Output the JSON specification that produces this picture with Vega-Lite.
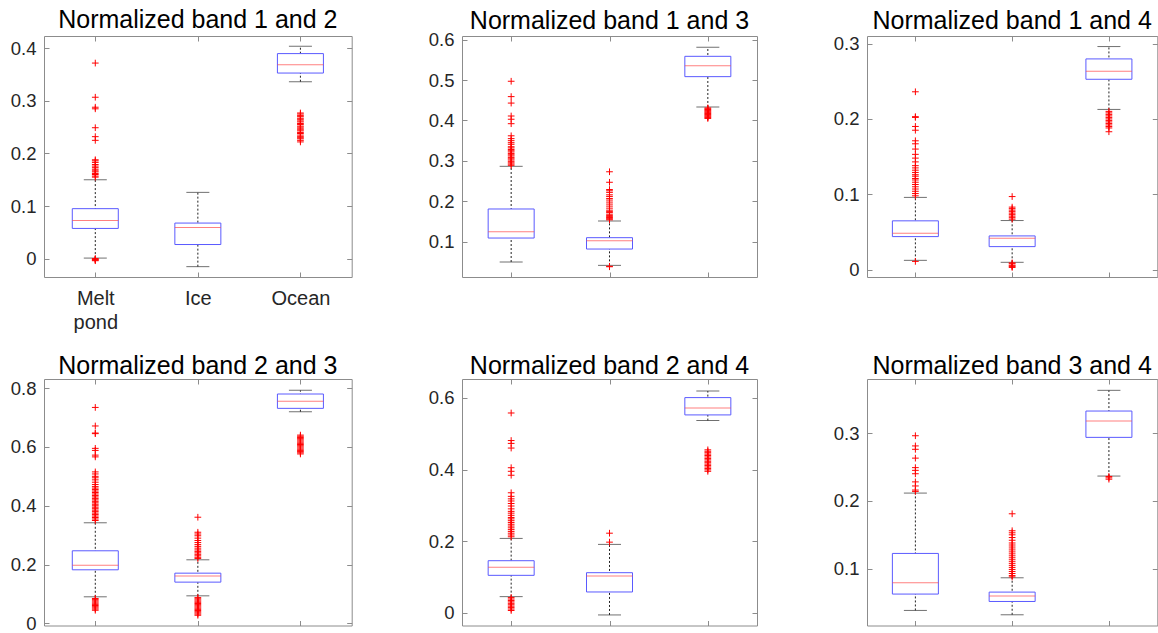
{
  "$schema": "https://vega.github.io/schema/vega-lite/v6.json",
  "padding": {"left": 9, "top": 7, "right": 0, "bottom": 0},
  "background": "white",
  "datasets": {
    "stats": [
      {"p": "b12", "c": "Melt pond", "lo": 0.001, "q1": 0.0574, "med": 0.0727, "q3": 0.095, "hi": 0.150},
      {"p": "b12", "c": "Ice", "lo": -0.0153, "q1": 0.0268, "med": 0.0593, "q3": 0.0676, "hi": 0.126},
      {"p": "b12", "c": "Ocean", "lo": 0.3365, "q1": 0.353, "med": 0.369, "q3": 0.390, "hi": 0.404},
      {"p": "b13", "c": "Melt pond", "lo": 0.0497, "q1": 0.109, "med": 0.1248, "q3": 0.1809, "hi": 0.2865},
      {"p": "b13", "c": "Ice", "lo": 0.0414, "q1": 0.0818, "med": 0.1025, "q3": 0.1099, "hi": 0.1512},
      {"p": "b13", "c": "Ocean", "lo": 0.4333, "q1": 0.5084, "med": 0.5356, "q3": 0.5587, "hi": 0.581},
      {"p": "b14", "c": "Melt pond", "lo": 0.0124, "q1": 0.0439, "med": 0.0484, "q3": 0.0648, "hi": 0.0959},
      {"p": "b14", "c": "Ice", "lo": 0.0098, "q1": 0.0306, "med": 0.0417, "q3": 0.0448, "hi": 0.0652},
      {"p": "b14", "c": "Ocean", "lo": 0.2126, "q1": 0.2526, "med": 0.2632, "q3": 0.2796, "hi": 0.296},
      {"p": "b23", "c": "Melt pond", "lo": 0.0907, "q1": 0.1824, "med": 0.1983, "q3": 0.247, "hi": 0.3422},
      {"p": "b23", "c": "Ice", "lo": 0.094, "q1": 0.1405, "med": 0.161, "q3": 0.171, "hi": 0.2164},
      {"p": "b23", "c": "Ocean", "lo": 0.7195, "q1": 0.7309, "med": 0.7547, "q3": 0.7796, "hi": 0.792},
      {"p": "b24", "c": "Melt pond", "lo": 0.0447, "q1": 0.1042, "med": 0.1265, "q3": 0.1451, "hi": 0.2074},
      {"p": "b24", "c": "Ice", "lo": -0.0065, "q1": 0.0577, "med": 0.1023, "q3": 0.1116, "hi": 0.1907},
      {"p": "b24", "c": "Ocean", "lo": 0.5367, "q1": 0.5526, "med": 0.5721, "q3": 0.601, "hi": 0.6195},
      {"p": "b34", "c": "Melt pond", "lo": 0.0386, "q1": 0.0627, "med": 0.0794, "q3": 0.1226, "hi": 0.2115},
      {"p": "b34", "c": "Ice", "lo": 0.0322, "q1": 0.0518, "med": 0.0597, "q3": 0.0656, "hi": 0.0867},
      {"p": "b34", "c": "Ocean", "lo": 0.2366, "q1": 0.2936, "med": 0.3177, "q3": 0.3324, "hi": 0.3629}
    ],
    "out": [
      {"p": "b12", "c": "Melt pond", "v": 0.372}, {"p": "b12", "c": "Melt pond", "v": 0.307}, {"p": "b12", "c": "Melt pond", "v": 0.288}, {"p": "b12", "c": "Melt pond", "v": 0.285}, {"p": "b12", "c": "Melt pond", "v": 0.249}, {"p": "b12", "c": "Melt pond", "v": 0.232}, {"p": "b12", "c": "Melt pond", "v": 0.225}, {"p": "b12", "c": "Melt pond", "v": 0.188}, {"p": "b12", "c": "Melt pond", "v": 0.186}, {"p": "b12", "c": "Melt pond", "v": 0.183}, {"p": "b12", "c": "Melt pond", "v": 0.179}, {"p": "b12", "c": "Melt pond", "v": 0.176}, {"p": "b12", "c": "Melt pond", "v": 0.173}, {"p": "b12", "c": "Melt pond", "v": 0.170}, {"p": "b12", "c": "Melt pond", "v": 0.167}, {"p": "b12", "c": "Melt pond", "v": 0.165}, {"p": "b12", "c": "Melt pond", "v": 0.162}, {"p": "b12", "c": "Melt pond", "v": 0.160}, {"p": "b12", "c": "Melt pond", "v": 0.157}, {"p": "b12", "c": "Melt pond", "v": 0.155}, {"p": "b12", "c": "Melt pond", "v": -0.004}, {"p": "b12", "c": "Melt pond", "v": -0.003}, {"p": "b12", "c": "Melt pond", "v": -0.002}, {"p": "b12", "c": "Melt pond", "v": -0.001}, {"p": "b12", "c": "Melt pond", "v": 0.0},
      {"p": "b12", "c": "Ocean", "v": 0.222}, {"p": "b12", "c": "Ocean", "v": 0.225}, {"p": "b12", "c": "Ocean", "v": 0.228}, {"p": "b12", "c": "Ocean", "v": 0.230}, {"p": "b12", "c": "Ocean", "v": 0.232}, {"p": "b12", "c": "Ocean", "v": 0.235}, {"p": "b12", "c": "Ocean", "v": 0.238}, {"p": "b12", "c": "Ocean", "v": 0.240}, {"p": "b12", "c": "Ocean", "v": 0.243}, {"p": "b12", "c": "Ocean", "v": 0.245}, {"p": "b12", "c": "Ocean", "v": 0.247}, {"p": "b12", "c": "Ocean", "v": 0.250}, {"p": "b12", "c": "Ocean", "v": 0.252}, {"p": "b12", "c": "Ocean", "v": 0.255}, {"p": "b12", "c": "Ocean", "v": 0.257}, {"p": "b12", "c": "Ocean", "v": 0.260}, {"p": "b12", "c": "Ocean", "v": 0.262}, {"p": "b12", "c": "Ocean", "v": 0.265}, {"p": "b12", "c": "Ocean", "v": 0.267}, {"p": "b12", "c": "Ocean", "v": 0.270}, {"p": "b12", "c": "Ocean", "v": 0.272}, {"p": "b12", "c": "Ocean", "v": 0.275}, {"p": "b12", "c": "Ocean", "v": 0.277},

      {"p": "b13", "c": "Melt pond", "v": 0.497}, {"p": "b13", "c": "Melt pond", "v": 0.459}, {"p": "b13", "c": "Melt pond", "v": 0.443}, {"p": "b13", "c": "Melt pond", "v": 0.411}, {"p": "b13", "c": "Melt pond", "v": 0.403}, {"p": "b13", "c": "Melt pond", "v": 0.392}, {"p": "b13", "c": "Melt pond", "v": 0.362}, {"p": "b13", "c": "Melt pond", "v": 0.355}, {"p": "b13", "c": "Melt pond", "v": 0.350}, {"p": "b13", "c": "Melt pond", "v": 0.345}, {"p": "b13", "c": "Melt pond", "v": 0.341}, {"p": "b13", "c": "Melt pond", "v": 0.335}, {"p": "b13", "c": "Melt pond", "v": 0.332}, {"p": "b13", "c": "Melt pond", "v": 0.328}, {"p": "b13", "c": "Melt pond", "v": 0.325}, {"p": "b13", "c": "Melt pond", "v": 0.322}, {"p": "b13", "c": "Melt pond", "v": 0.318}, {"p": "b13", "c": "Melt pond", "v": 0.315}, {"p": "b13", "c": "Melt pond", "v": 0.312}, {"p": "b13", "c": "Melt pond", "v": 0.308}, {"p": "b13", "c": "Melt pond", "v": 0.305}, {"p": "b13", "c": "Melt pond", "v": 0.302}, {"p": "b13", "c": "Melt pond", "v": 0.298}, {"p": "b13", "c": "Melt pond", "v": 0.295}, {"p": "b13", "c": "Melt pond", "v": 0.292}, {"p": "b13", "c": "Melt pond", "v": 0.289},
      {"p": "b13", "c": "Ice", "v": 0.273}, {"p": "b13", "c": "Ice", "v": 0.247}, {"p": "b13", "c": "Ice", "v": 0.229}, {"p": "b13", "c": "Ice", "v": 0.226}, {"p": "b13", "c": "Ice", "v": 0.222}, {"p": "b13", "c": "Ice", "v": 0.216}, {"p": "b13", "c": "Ice", "v": 0.212}, {"p": "b13", "c": "Ice", "v": 0.207}, {"p": "b13", "c": "Ice", "v": 0.203}, {"p": "b13", "c": "Ice", "v": 0.198}, {"p": "b13", "c": "Ice", "v": 0.193}, {"p": "b13", "c": "Ice", "v": 0.188}, {"p": "b13", "c": "Ice", "v": 0.183}, {"p": "b13", "c": "Ice", "v": 0.178}, {"p": "b13", "c": "Ice", "v": 0.175}, {"p": "b13", "c": "Ice", "v": 0.172}, {"p": "b13", "c": "Ice", "v": 0.168}, {"p": "b13", "c": "Ice", "v": 0.165}, {"p": "b13", "c": "Ice", "v": 0.162}, {"p": "b13", "c": "Ice", "v": 0.160}, {"p": "b13", "c": "Ice", "v": 0.158}, {"p": "b13", "c": "Ice", "v": 0.156}, {"p": "b13", "c": "Ice", "v": 0.154}, {"p": "b13", "c": "Ice", "v": 0.039}, {"p": "b13", "c": "Ice", "v": 0.038},
      {"p": "b13", "c": "Ocean", "v": 0.405}, {"p": "b13", "c": "Ocean", "v": 0.407}, {"p": "b13", "c": "Ocean", "v": 0.409}, {"p": "b13", "c": "Ocean", "v": 0.411}, {"p": "b13", "c": "Ocean", "v": 0.413}, {"p": "b13", "c": "Ocean", "v": 0.415}, {"p": "b13", "c": "Ocean", "v": 0.417}, {"p": "b13", "c": "Ocean", "v": 0.419}, {"p": "b13", "c": "Ocean", "v": 0.421}, {"p": "b13", "c": "Ocean", "v": 0.423}, {"p": "b13", "c": "Ocean", "v": 0.425}, {"p": "b13", "c": "Ocean", "v": 0.427}, {"p": "b13", "c": "Ocean", "v": 0.429}, {"p": "b13", "c": "Ocean", "v": 0.431},

      {"p": "b14", "c": "Melt pond", "v": 0.236}, {"p": "b14", "c": "Melt pond", "v": 0.203}, {"p": "b14", "c": "Melt pond", "v": 0.202}, {"p": "b14", "c": "Melt pond", "v": 0.190}, {"p": "b14", "c": "Melt pond", "v": 0.185}, {"p": "b14", "c": "Melt pond", "v": 0.171}, {"p": "b14", "c": "Melt pond", "v": 0.167}, {"p": "b14", "c": "Melt pond", "v": 0.160}, {"p": "b14", "c": "Melt pond", "v": 0.153}, {"p": "b14", "c": "Melt pond", "v": 0.148}, {"p": "b14", "c": "Melt pond", "v": 0.143}, {"p": "b14", "c": "Melt pond", "v": 0.138}, {"p": "b14", "c": "Melt pond", "v": 0.135}, {"p": "b14", "c": "Melt pond", "v": 0.132}, {"p": "b14", "c": "Melt pond", "v": 0.129}, {"p": "b14", "c": "Melt pond", "v": 0.126}, {"p": "b14", "c": "Melt pond", "v": 0.124}, {"p": "b14", "c": "Melt pond", "v": 0.121}, {"p": "b14", "c": "Melt pond", "v": 0.119}, {"p": "b14", "c": "Melt pond", "v": 0.116}, {"p": "b14", "c": "Melt pond", "v": 0.113}, {"p": "b14", "c": "Melt pond", "v": 0.110}, {"p": "b14", "c": "Melt pond", "v": 0.107}, {"p": "b14", "c": "Melt pond", "v": 0.104}, {"p": "b14", "c": "Melt pond", "v": 0.101}, {"p": "b14", "c": "Melt pond", "v": 0.098}, {"p": "b14", "c": "Melt pond", "v": 0.011},
      {"p": "b14", "c": "Ice", "v": 0.097}, {"p": "b14", "c": "Ice", "v": 0.083}, {"p": "b14", "c": "Ice", "v": 0.081}, {"p": "b14", "c": "Ice", "v": 0.079}, {"p": "b14", "c": "Ice", "v": 0.077}, {"p": "b14", "c": "Ice", "v": 0.075}, {"p": "b14", "c": "Ice", "v": 0.073}, {"p": "b14", "c": "Ice", "v": 0.071}, {"p": "b14", "c": "Ice", "v": 0.069}, {"p": "b14", "c": "Ice", "v": 0.067}, {"p": "b14", "c": "Ice", "v": 0.009}, {"p": "b14", "c": "Ice", "v": 0.008}, {"p": "b14", "c": "Ice", "v": 0.006}, {"p": "b14", "c": "Ice", "v": 0.005}, {"p": "b14", "c": "Ice", "v": 0.004}, {"p": "b14", "c": "Ice", "v": 0.003},
      {"p": "b14", "c": "Ocean", "v": 0.183}, {"p": "b14", "c": "Ocean", "v": 0.188}, {"p": "b14", "c": "Ocean", "v": 0.190}, {"p": "b14", "c": "Ocean", "v": 0.192}, {"p": "b14", "c": "Ocean", "v": 0.194}, {"p": "b14", "c": "Ocean", "v": 0.196}, {"p": "b14", "c": "Ocean", "v": 0.198}, {"p": "b14", "c": "Ocean", "v": 0.200}, {"p": "b14", "c": "Ocean", "v": 0.202}, {"p": "b14", "c": "Ocean", "v": 0.204}, {"p": "b14", "c": "Ocean", "v": 0.206}, {"p": "b14", "c": "Ocean", "v": 0.208}, {"p": "b14", "c": "Ocean", "v": 0.210},

      {"p": "b23", "c": "Melt pond", "v": 0.734}, {"p": "b23", "c": "Melt pond", "v": 0.671}, {"p": "b23", "c": "Melt pond", "v": 0.647}, {"p": "b23", "c": "Melt pond", "v": 0.645}, {"p": "b23", "c": "Melt pond", "v": 0.595}, {"p": "b23", "c": "Melt pond", "v": 0.588}, {"p": "b23", "c": "Melt pond", "v": 0.572}, {"p": "b23", "c": "Melt pond", "v": 0.566}, {"p": "b23", "c": "Melt pond", "v": 0.515}, {"p": "b23", "c": "Melt pond", "v": 0.508}, {"p": "b23", "c": "Melt pond", "v": 0.500}, {"p": "b23", "c": "Melt pond", "v": 0.495}, {"p": "b23", "c": "Melt pond", "v": 0.488}, {"p": "b23", "c": "Melt pond", "v": 0.480}, {"p": "b23", "c": "Melt pond", "v": 0.472}, {"p": "b23", "c": "Melt pond", "v": 0.465}, {"p": "b23", "c": "Melt pond", "v": 0.460}, {"p": "b23", "c": "Melt pond", "v": 0.455}, {"p": "b23", "c": "Melt pond", "v": 0.450}, {"p": "b23", "c": "Melt pond", "v": 0.445}, {"p": "b23", "c": "Melt pond", "v": 0.440}, {"p": "b23", "c": "Melt pond", "v": 0.435}, {"p": "b23", "c": "Melt pond", "v": 0.430}, {"p": "b23", "c": "Melt pond", "v": 0.425}, {"p": "b23", "c": "Melt pond", "v": 0.420}, {"p": "b23", "c": "Melt pond", "v": 0.415}, {"p": "b23", "c": "Melt pond", "v": 0.410}, {"p": "b23", "c": "Melt pond", "v": 0.405}, {"p": "b23", "c": "Melt pond", "v": 0.400}, {"p": "b23", "c": "Melt pond", "v": 0.395}, {"p": "b23", "c": "Melt pond", "v": 0.390}, {"p": "b23", "c": "Melt pond", "v": 0.385}, {"p": "b23", "c": "Melt pond", "v": 0.380}, {"p": "b23", "c": "Melt pond", "v": 0.375}, {"p": "b23", "c": "Melt pond", "v": 0.370}, {"p": "b23", "c": "Melt pond", "v": 0.365}, {"p": "b23", "c": "Melt pond", "v": 0.360}, {"p": "b23", "c": "Melt pond", "v": 0.355}, {"p": "b23", "c": "Melt pond", "v": 0.350}, {"p": "b23", "c": "Melt pond", "v": 0.085}, {"p": "b23", "c": "Melt pond", "v": 0.081}, {"p": "b23", "c": "Melt pond", "v": 0.077}, {"p": "b23", "c": "Melt pond", "v": 0.073}, {"p": "b23", "c": "Melt pond", "v": 0.069}, {"p": "b23", "c": "Melt pond", "v": 0.065}, {"p": "b23", "c": "Melt pond", "v": 0.061}, {"p": "b23", "c": "Melt pond", "v": 0.057}, {"p": "b23", "c": "Melt pond", "v": 0.053}, {"p": "b23", "c": "Melt pond", "v": 0.049}, {"p": "b23", "c": "Melt pond", "v": 0.045},
      {"p": "b23", "c": "Ice", "v": 0.361}, {"p": "b23", "c": "Ice", "v": 0.310}, {"p": "b23", "c": "Ice", "v": 0.304}, {"p": "b23", "c": "Ice", "v": 0.298}, {"p": "b23", "c": "Ice", "v": 0.290}, {"p": "b23", "c": "Ice", "v": 0.282}, {"p": "b23", "c": "Ice", "v": 0.275}, {"p": "b23", "c": "Ice", "v": 0.268}, {"p": "b23", "c": "Ice", "v": 0.262}, {"p": "b23", "c": "Ice", "v": 0.256}, {"p": "b23", "c": "Ice", "v": 0.250}, {"p": "b23", "c": "Ice", "v": 0.245}, {"p": "b23", "c": "Ice", "v": 0.240}, {"p": "b23", "c": "Ice", "v": 0.235}, {"p": "b23", "c": "Ice", "v": 0.230}, {"p": "b23", "c": "Ice", "v": 0.225}, {"p": "b23", "c": "Ice", "v": 0.221}, {"p": "b23", "c": "Ice", "v": 0.088}, {"p": "b23", "c": "Ice", "v": 0.084}, {"p": "b23", "c": "Ice", "v": 0.080}, {"p": "b23", "c": "Ice", "v": 0.076}, {"p": "b23", "c": "Ice", "v": 0.072}, {"p": "b23", "c": "Ice", "v": 0.068}, {"p": "b23", "c": "Ice", "v": 0.064}, {"p": "b23", "c": "Ice", "v": 0.060}, {"p": "b23", "c": "Ice", "v": 0.056}, {"p": "b23", "c": "Ice", "v": 0.052}, {"p": "b23", "c": "Ice", "v": 0.048}, {"p": "b23", "c": "Ice", "v": 0.044}, {"p": "b23", "c": "Ice", "v": 0.040}, {"p": "b23", "c": "Ice", "v": 0.036}, {"p": "b23", "c": "Ice", "v": 0.032}, {"p": "b23", "c": "Ice", "v": 0.028},
      {"p": "b23", "c": "Ocean", "v": 0.576}, {"p": "b23", "c": "Ocean", "v": 0.580}, {"p": "b23", "c": "Ocean", "v": 0.584}, {"p": "b23", "c": "Ocean", "v": 0.588}, {"p": "b23", "c": "Ocean", "v": 0.592}, {"p": "b23", "c": "Ocean", "v": 0.596}, {"p": "b23", "c": "Ocean", "v": 0.600}, {"p": "b23", "c": "Ocean", "v": 0.604}, {"p": "b23", "c": "Ocean", "v": 0.608}, {"p": "b23", "c": "Ocean", "v": 0.612}, {"p": "b23", "c": "Ocean", "v": 0.616}, {"p": "b23", "c": "Ocean", "v": 0.620}, {"p": "b23", "c": "Ocean", "v": 0.624}, {"p": "b23", "c": "Ocean", "v": 0.628}, {"p": "b23", "c": "Ocean", "v": 0.632}, {"p": "b23", "c": "Ocean", "v": 0.636}, {"p": "b23", "c": "Ocean", "v": 0.640},

      {"p": "b24", "c": "Melt pond", "v": 0.558}, {"p": "b24", "c": "Melt pond", "v": 0.481}, {"p": "b24", "c": "Melt pond", "v": 0.473}, {"p": "b24", "c": "Melt pond", "v": 0.460}, {"p": "b24", "c": "Melt pond", "v": 0.405}, {"p": "b24", "c": "Melt pond", "v": 0.395}, {"p": "b24", "c": "Melt pond", "v": 0.384}, {"p": "b24", "c": "Melt pond", "v": 0.335}, {"p": "b24", "c": "Melt pond", "v": 0.325}, {"p": "b24", "c": "Melt pond", "v": 0.318}, {"p": "b24", "c": "Melt pond", "v": 0.312}, {"p": "b24", "c": "Melt pond", "v": 0.305}, {"p": "b24", "c": "Melt pond", "v": 0.298}, {"p": "b24", "c": "Melt pond", "v": 0.290}, {"p": "b24", "c": "Melt pond", "v": 0.283}, {"p": "b24", "c": "Melt pond", "v": 0.278}, {"p": "b24", "c": "Melt pond", "v": 0.272}, {"p": "b24", "c": "Melt pond", "v": 0.266}, {"p": "b24", "c": "Melt pond", "v": 0.262}, {"p": "b24", "c": "Melt pond", "v": 0.257}, {"p": "b24", "c": "Melt pond", "v": 0.252}, {"p": "b24", "c": "Melt pond", "v": 0.247}, {"p": "b24", "c": "Melt pond", "v": 0.242}, {"p": "b24", "c": "Melt pond", "v": 0.237}, {"p": "b24", "c": "Melt pond", "v": 0.232}, {"p": "b24", "c": "Melt pond", "v": 0.227}, {"p": "b24", "c": "Melt pond", "v": 0.222}, {"p": "b24", "c": "Melt pond", "v": 0.217}, {"p": "b24", "c": "Melt pond", "v": 0.212}, {"p": "b24", "c": "Melt pond", "v": 0.042}, {"p": "b24", "c": "Melt pond", "v": 0.038}, {"p": "b24", "c": "Melt pond", "v": 0.034}, {"p": "b24", "c": "Melt pond", "v": 0.030}, {"p": "b24", "c": "Melt pond", "v": 0.026}, {"p": "b24", "c": "Melt pond", "v": 0.022}, {"p": "b24", "c": "Melt pond", "v": 0.018}, {"p": "b24", "c": "Melt pond", "v": 0.014}, {"p": "b24", "c": "Melt pond", "v": 0.010}, {"p": "b24", "c": "Melt pond", "v": 0.006},
      {"p": "b24", "c": "Ice", "v": 0.222}, {"p": "b24", "c": "Ice", "v": 0.197},
      {"p": "b24", "c": "Ocean", "v": 0.395}, {"p": "b24", "c": "Ocean", "v": 0.399}, {"p": "b24", "c": "Ocean", "v": 0.403}, {"p": "b24", "c": "Ocean", "v": 0.407}, {"p": "b24", "c": "Ocean", "v": 0.411}, {"p": "b24", "c": "Ocean", "v": 0.415}, {"p": "b24", "c": "Ocean", "v": 0.419}, {"p": "b24", "c": "Ocean", "v": 0.423}, {"p": "b24", "c": "Ocean", "v": 0.427}, {"p": "b24", "c": "Ocean", "v": 0.431}, {"p": "b24", "c": "Ocean", "v": 0.435}, {"p": "b24", "c": "Ocean", "v": 0.439}, {"p": "b24", "c": "Ocean", "v": 0.443}, {"p": "b24", "c": "Ocean", "v": 0.447}, {"p": "b24", "c": "Ocean", "v": 0.451}, {"p": "b24", "c": "Ocean", "v": 0.455},

      {"p": "b34", "c": "Melt pond", "v": 0.296}, {"p": "b34", "c": "Melt pond", "v": 0.281}, {"p": "b34", "c": "Melt pond", "v": 0.276}, {"p": "b34", "c": "Melt pond", "v": 0.263}, {"p": "b34", "c": "Melt pond", "v": 0.249}, {"p": "b34", "c": "Melt pond", "v": 0.245}, {"p": "b34", "c": "Melt pond", "v": 0.240}, {"p": "b34", "c": "Melt pond", "v": 0.228}, {"p": "b34", "c": "Melt pond", "v": 0.222}, {"p": "b34", "c": "Melt pond", "v": 0.216}, {"p": "b34", "c": "Melt pond", "v": 0.214},
      {"p": "b34", "c": "Ice", "v": 0.181}, {"p": "b34", "c": "Ice", "v": 0.156}, {"p": "b34", "c": "Ice", "v": 0.153}, {"p": "b34", "c": "Ice", "v": 0.150}, {"p": "b34", "c": "Ice", "v": 0.146}, {"p": "b34", "c": "Ice", "v": 0.142}, {"p": "b34", "c": "Ice", "v": 0.138}, {"p": "b34", "c": "Ice", "v": 0.135}, {"p": "b34", "c": "Ice", "v": 0.132}, {"p": "b34", "c": "Ice", "v": 0.129}, {"p": "b34", "c": "Ice", "v": 0.126}, {"p": "b34", "c": "Ice", "v": 0.123}, {"p": "b34", "c": "Ice", "v": 0.120}, {"p": "b34", "c": "Ice", "v": 0.117}, {"p": "b34", "c": "Ice", "v": 0.114}, {"p": "b34", "c": "Ice", "v": 0.111}, {"p": "b34", "c": "Ice", "v": 0.108}, {"p": "b34", "c": "Ice", "v": 0.105}, {"p": "b34", "c": "Ice", "v": 0.102}, {"p": "b34", "c": "Ice", "v": 0.099}, {"p": "b34", "c": "Ice", "v": 0.096}, {"p": "b34", "c": "Ice", "v": 0.093}, {"p": "b34", "c": "Ice", "v": 0.090}, {"p": "b34", "c": "Ice", "v": 0.088},
      {"p": "b34", "c": "Ocean", "v": 0.236}, {"p": "b34", "c": "Ocean", "v": 0.234}, {"p": "b34", "c": "Ocean", "v": 0.232}
    ]
  },
  "columns": 3,
  "spacing": {"row": 102, "column": 110},
  "bounds": "flush",
  "concat": [
    {
      "width": 307.7, "height": 241,
      "title": {"text": "Normalized band 1 and 2", "offset": 2.5},
      "layer": [
        {"data": {"name": "stats"}, "transform": [{"filter": "datum.p == 'b12'"}],
         "mark": {"type": "rule", "strokeDash": [2, 2], "color": "#222", "strokeWidth": 1},
         "encoding": {
           "x": {"field": "c", "type": "nominal", "sort": ["Melt pond", "Ice", "Ocean"], "scale": {"type": "point", "padding": 0.5}, "axis": {"orient": "bottom", "title": null, "labelAngle": 0, "labelFontSize": 20, "labelPadding": 16, "labelLineHeight": 24, "labelExpr": "datum.value == 'Melt pond' ? ['Melt', 'pond'] : datum.value"}},
           "y": {"field": "lo", "type": "quantitative", "scale": {"domain": [-0.035, 0.4235], "nice": false, "zero": false}, "axis": {"orient": "left", "title": null, "values": [0, 0.1, 0.2, 0.3, 0.4], "format": "~g", "labelPadding": 13}},
           "y2": {"field": "hi"}}},
        {"data": {"name": "stats"}, "transform": [{"filter": "datum.p == 'b12'"}],
         "mark": {"type": "bar", "width": 46, "fill": "white", "stroke": "#5a5aff", "strokeWidth": 1},
         "encoding": {
           "x": {"field": "c", "type": "nominal", "sort": ["Melt pond", "Ice", "Ocean"], "axis": null},
           "y": {"field": "q1", "type": "quantitative", "scale": {"domain": [-0.035, 0.4235], "nice": false, "zero": false}, "axis": null},
           "y2": {"field": "q3"}}},
        {"data": {"name": "stats"}, "transform": [{"filter": "datum.p == 'b12'"}],
         "mark": {"type": "tick", "size": 46, "thickness": 1, "color": "#ff4a4a"},
         "encoding": {
           "x": {"field": "c", "type": "nominal", "sort": ["Melt pond", "Ice", "Ocean"], "axis": {"orient": "top", "labels": false, "title": null}},
           "y": {"field": "med", "type": "quantitative", "scale": {"domain": [-0.035, 0.4235], "nice": false, "zero": false}, "axis": {"orient": "right", "labels": false, "title": null, "values": [0, 0.1, 0.2, 0.3, 0.4]}}}},
        {"data": {"name": "stats"}, "transform": [{"filter": "datum.p == 'b12'"}, {"fold": ["lo", "hi"]}],
         "mark": {"type": "tick", "size": 23, "thickness": 1, "color": "#333"},
         "encoding": {
           "x": {"field": "c", "type": "nominal", "sort": ["Melt pond", "Ice", "Ocean"], "axis": null},
           "y": {"field": "value", "type": "quantitative", "scale": {"domain": [-0.035, 0.4235], "nice": false, "zero": false}, "axis": null}}},
        {"data": {"name": "out"}, "transform": [{"filter": "datum.p == 'b12'"}],
         "mark": {"type": "point", "shape": "M-1,0H1M0,-1V1", "size": 45, "filled": false, "stroke": "#ff0000", "strokeWidth": 1, "opacity": 1},
         "encoding": {
           "x": {"field": "c", "type": "nominal", "sort": ["Melt pond", "Ice", "Ocean"], "axis": null},
           "y": {"field": "v", "type": "quantitative", "scale": {"domain": [-0.035, 0.4235], "nice": false, "zero": false}, "axis": null}}}
      ]
    },
    {
      "width": 295, "height": 241,
      "title": {"text": "Normalized band 1 and 3", "offset": 2.5, "dy": 5.6},
      "layer": [
        {"data": {"name": "stats"}, "transform": [{"filter": "datum.p == 'b13'"}],
         "mark": {"type": "rule", "strokeDash": [2, 2], "color": "#222", "strokeWidth": 1},
         "encoding": {
           "x": {"field": "c", "type": "nominal", "sort": ["Melt pond", "Ice", "Ocean"], "scale": {"type": "point", "padding": 0.5}, "axis": {"orient": "bottom", "title": null, "labels": false}},
           "y": {"field": "lo", "type": "quantitative", "scale": {"domain": [0.0126, 0.609], "nice": false, "zero": false}, "axis": {"orient": "left", "title": null, "values": [0.1, 0.2, 0.3, 0.4, 0.5, 0.6], "format": "~g", "labelPadding": 13}},
           "y2": {"field": "hi"}}},
        {"data": {"name": "stats"}, "transform": [{"filter": "datum.p == 'b13'"}],
         "mark": {"type": "bar", "width": 46, "fill": "white", "stroke": "#5a5aff", "strokeWidth": 1},
         "encoding": {
           "x": {"field": "c", "type": "nominal", "sort": ["Melt pond", "Ice", "Ocean"], "axis": null},
           "y": {"field": "q1", "type": "quantitative", "scale": {"domain": [0.0126, 0.609], "nice": false, "zero": false}, "axis": null},
           "y2": {"field": "q3"}}},
        {"data": {"name": "stats"}, "transform": [{"filter": "datum.p == 'b13'"}],
         "mark": {"type": "tick", "size": 46, "thickness": 1, "color": "#ff4a4a"},
         "encoding": {
           "x": {"field": "c", "type": "nominal", "sort": ["Melt pond", "Ice", "Ocean"], "axis": {"orient": "top", "labels": false, "title": null}},
           "y": {"field": "med", "type": "quantitative", "scale": {"domain": [0.0126, 0.609], "nice": false, "zero": false}, "axis": {"orient": "right", "labels": false, "title": null, "values": [0.1, 0.2, 0.3, 0.4, 0.5, 0.6]}}}},
        {"data": {"name": "stats"}, "transform": [{"filter": "datum.p == 'b13'"}, {"fold": ["lo", "hi"]}],
         "mark": {"type": "tick", "size": 23, "thickness": 1, "color": "#333"},
         "encoding": {
           "x": {"field": "c", "type": "nominal", "sort": ["Melt pond", "Ice", "Ocean"], "axis": null},
           "y": {"field": "value", "type": "quantitative", "scale": {"domain": [0.0126, 0.609], "nice": false, "zero": false}, "axis": null}}},
        {"data": {"name": "out"}, "transform": [{"filter": "datum.p == 'b13'"}],
         "mark": {"type": "point", "shape": "M-1,0H1M0,-1V1", "size": 45, "filled": false, "stroke": "#ff0000", "strokeWidth": 1, "opacity": 1},
         "encoding": {
           "x": {"field": "c", "type": "nominal", "sort": ["Melt pond", "Ice", "Ocean"], "axis": null},
           "y": {"field": "v", "type": "quantitative", "scale": {"domain": [0.0126, 0.609], "nice": false, "zero": false}, "axis": null}}}
      ]
    },
    {
      "width": 290.3, "height": 241,
      "title": {"text": "Normalized band 1 and 4", "offset": 2.5, "dy": 1.75},
      "layer": [
        {"data": {"name": "stats"}, "transform": [{"filter": "datum.p == 'b14'"}],
         "mark": {"type": "rule", "strokeDash": [2, 2], "color": "#222", "strokeWidth": 1},
         "encoding": {
           "x": {"field": "c", "type": "nominal", "sort": ["Melt pond", "Ice", "Ocean"], "scale": {"type": "point", "padding": 0.5}, "axis": {"orient": "bottom", "title": null, "labels": false}},
           "y": {"field": "lo", "type": "quantitative", "scale": {"domain": [-0.0097, 0.310], "nice": false, "zero": false}, "axis": {"orient": "left", "title": null, "values": [0, 0.1, 0.2, 0.3], "format": "~g", "labelPadding": 13}},
           "y2": {"field": "hi"}}},
        {"data": {"name": "stats"}, "transform": [{"filter": "datum.p == 'b14'"}],
         "mark": {"type": "bar", "width": 46, "fill": "white", "stroke": "#5a5aff", "strokeWidth": 1},
         "encoding": {
           "x": {"field": "c", "type": "nominal", "sort": ["Melt pond", "Ice", "Ocean"], "axis": null},
           "y": {"field": "q1", "type": "quantitative", "scale": {"domain": [-0.0097, 0.310], "nice": false, "zero": false}, "axis": null},
           "y2": {"field": "q3"}}},
        {"data": {"name": "stats"}, "transform": [{"filter": "datum.p == 'b14'"}],
         "mark": {"type": "tick", "size": 46, "thickness": 1, "color": "#ff4a4a"},
         "encoding": {
           "x": {"field": "c", "type": "nominal", "sort": ["Melt pond", "Ice", "Ocean"], "axis": {"orient": "top", "labels": false, "title": null}},
           "y": {"field": "med", "type": "quantitative", "scale": {"domain": [-0.0097, 0.310], "nice": false, "zero": false}, "axis": {"orient": "right", "labels": false, "title": null, "values": [0, 0.1, 0.2, 0.3]}}}},
        {"data": {"name": "stats"}, "transform": [{"filter": "datum.p == 'b14'"}, {"fold": ["lo", "hi"]}],
         "mark": {"type": "tick", "size": 23, "thickness": 1, "color": "#333"},
         "encoding": {
           "x": {"field": "c", "type": "nominal", "sort": ["Melt pond", "Ice", "Ocean"], "axis": null},
           "y": {"field": "value", "type": "quantitative", "scale": {"domain": [-0.0097, 0.310], "nice": false, "zero": false}, "axis": null}}},
        {"data": {"name": "out"}, "transform": [{"filter": "datum.p == 'b14'"}],
         "mark": {"type": "point", "shape": "M-1,0H1M0,-1V1", "size": 45, "filled": false, "stroke": "#ff0000", "strokeWidth": 1, "opacity": 1},
         "encoding": {
           "x": {"field": "c", "type": "nominal", "sort": ["Melt pond", "Ice", "Ocean"], "axis": null},
           "y": {"field": "v", "type": "quantitative", "scale": {"domain": [-0.0097, 0.310], "nice": false, "zero": false}, "axis": null}}}
      ]
    },
    {
      "width": 307.7, "height": 246.5,
      "title": {"text": "Normalized band 2 and 3", "offset": -0.5, "dy": 0.25},
      "layer": [
        {"data": {"name": "stats"}, "transform": [{"filter": "datum.p == 'b23'"}],
         "mark": {"type": "rule", "strokeDash": [2, 2], "color": "#222", "strokeWidth": 1},
         "encoding": {
           "x": {"field": "c", "type": "nominal", "sort": ["Melt pond", "Ice", "Ocean"], "scale": {"type": "point", "padding": 0.5}, "axis": {"orient": "bottom", "title": null, "labels": false}},
           "y": {"field": "lo", "type": "quantitative", "scale": {"domain": [-0.0068, 0.8306], "nice": false, "zero": false}, "axis": {"orient": "left", "title": null, "values": [0, 0.2, 0.4, 0.6, 0.8], "format": "~g", "labelPadding": 13}},
           "y2": {"field": "hi"}}},
        {"data": {"name": "stats"}, "transform": [{"filter": "datum.p == 'b23'"}],
         "mark": {"type": "bar", "width": 46, "fill": "white", "stroke": "#5a5aff", "strokeWidth": 1},
         "encoding": {
           "x": {"field": "c", "type": "nominal", "sort": ["Melt pond", "Ice", "Ocean"], "axis": null},
           "y": {"field": "q1", "type": "quantitative", "scale": {"domain": [-0.0068, 0.8306], "nice": false, "zero": false}, "axis": null},
           "y2": {"field": "q3"}}},
        {"data": {"name": "stats"}, "transform": [{"filter": "datum.p == 'b23'"}],
         "mark": {"type": "tick", "size": 46, "thickness": 1, "color": "#ff4a4a"},
         "encoding": {
           "x": {"field": "c", "type": "nominal", "sort": ["Melt pond", "Ice", "Ocean"], "axis": {"orient": "top", "labels": false, "title": null}},
           "y": {"field": "med", "type": "quantitative", "scale": {"domain": [-0.0068, 0.8306], "nice": false, "zero": false}, "axis": {"orient": "right", "labels": false, "title": null, "values": [0, 0.2, 0.4, 0.6, 0.8]}}}},
        {"data": {"name": "stats"}, "transform": [{"filter": "datum.p == 'b23'"}, {"fold": ["lo", "hi"]}],
         "mark": {"type": "tick", "size": 23, "thickness": 1, "color": "#333"},
         "encoding": {
           "x": {"field": "c", "type": "nominal", "sort": ["Melt pond", "Ice", "Ocean"], "axis": null},
           "y": {"field": "value", "type": "quantitative", "scale": {"domain": [-0.0068, 0.8306], "nice": false, "zero": false}, "axis": null}}},
        {"data": {"name": "out"}, "transform": [{"filter": "datum.p == 'b23'"}],
         "mark": {"type": "point", "shape": "M-1,0H1M0,-1V1", "size": 45, "filled": false, "stroke": "#ff0000", "strokeWidth": 1, "opacity": 1},
         "encoding": {
           "x": {"field": "c", "type": "nominal", "sort": ["Melt pond", "Ice", "Ocean"], "axis": null},
           "y": {"field": "v", "type": "quantitative", "scale": {"domain": [-0.0068, 0.8306], "nice": false, "zero": false}, "axis": null}}}
      ]
    },
    {
      "width": 295, "height": 246.5,
      "title": {"text": "Normalized band 2 and 4", "offset": -0.5},
      "layer": [
        {"data": {"name": "stats"}, "transform": [{"filter": "datum.p == 'b24'"}],
         "mark": {"type": "rule", "strokeDash": [2, 2], "color": "#222", "strokeWidth": 1},
         "encoding": {
           "x": {"field": "c", "type": "nominal", "sort": ["Melt pond", "Ice", "Ocean"], "scale": {"type": "point", "padding": 0.5}, "axis": {"orient": "bottom", "title": null, "labels": false}},
           "y": {"field": "lo", "type": "quantitative", "scale": {"domain": [-0.036, 0.653], "nice": false, "zero": false}, "axis": {"orient": "left", "title": null, "values": [0, 0.2, 0.4, 0.6], "format": "~g", "labelPadding": 13}},
           "y2": {"field": "hi"}}},
        {"data": {"name": "stats"}, "transform": [{"filter": "datum.p == 'b24'"}],
         "mark": {"type": "bar", "width": 46, "fill": "white", "stroke": "#5a5aff", "strokeWidth": 1},
         "encoding": {
           "x": {"field": "c", "type": "nominal", "sort": ["Melt pond", "Ice", "Ocean"], "axis": null},
           "y": {"field": "q1", "type": "quantitative", "scale": {"domain": [-0.036, 0.653], "nice": false, "zero": false}, "axis": null},
           "y2": {"field": "q3"}}},
        {"data": {"name": "stats"}, "transform": [{"filter": "datum.p == 'b24'"}],
         "mark": {"type": "tick", "size": 46, "thickness": 1, "color": "#ff4a4a"},
         "encoding": {
           "x": {"field": "c", "type": "nominal", "sort": ["Melt pond", "Ice", "Ocean"], "axis": {"orient": "top", "labels": false, "title": null}},
           "y": {"field": "med", "type": "quantitative", "scale": {"domain": [-0.036, 0.653], "nice": false, "zero": false}, "axis": {"orient": "right", "labels": false, "title": null, "values": [0, 0.2, 0.4, 0.6]}}}},
        {"data": {"name": "stats"}, "transform": [{"filter": "datum.p == 'b24'"}, {"fold": ["lo", "hi"]}],
         "mark": {"type": "tick", "size": 23, "thickness": 1, "color": "#333"},
         "encoding": {
           "x": {"field": "c", "type": "nominal", "sort": ["Melt pond", "Ice", "Ocean"], "axis": null},
           "y": {"field": "value", "type": "quantitative", "scale": {"domain": [-0.036, 0.653], "nice": false, "zero": false}, "axis": null}}},
        {"data": {"name": "out"}, "transform": [{"filter": "datum.p == 'b24'"}],
         "mark": {"type": "point", "shape": "M-1,0H1M0,-1V1", "size": 45, "filled": false, "stroke": "#ff0000", "strokeWidth": 1, "opacity": 1},
         "encoding": {
           "x": {"field": "c", "type": "nominal", "sort": ["Melt pond", "Ice", "Ocean"], "axis": null},
           "y": {"field": "v", "type": "quantitative", "scale": {"domain": [-0.036, 0.653], "nice": false, "zero": false}, "axis": null}}}
      ]
    },
    {
      "width": 290.3, "height": 246.5,
      "title": {"text": "Normalized band 3 and 4", "offset": -0.5},
      "layer": [
        {"data": {"name": "stats"}, "transform": [{"filter": "datum.p == 'b34'"}],
         "mark": {"type": "rule", "strokeDash": [2, 2], "color": "#222", "strokeWidth": 1},
         "encoding": {
           "x": {"field": "c", "type": "nominal", "sort": ["Melt pond", "Ice", "Ocean"], "scale": {"type": "point", "padding": 0.5}, "axis": {"orient": "bottom", "title": null, "labels": false}},
           "y": {"field": "lo", "type": "quantitative", "scale": {"domain": [0.0164, 0.3796], "nice": false, "zero": false}, "axis": {"orient": "left", "title": null, "values": [0.1, 0.2, 0.3], "format": "~g", "labelPadding": 13}},
           "y2": {"field": "hi"}}},
        {"data": {"name": "stats"}, "transform": [{"filter": "datum.p == 'b34'"}],
         "mark": {"type": "bar", "width": 46, "fill": "white", "stroke": "#5a5aff", "strokeWidth": 1},
         "encoding": {
           "x": {"field": "c", "type": "nominal", "sort": ["Melt pond", "Ice", "Ocean"], "axis": null},
           "y": {"field": "q1", "type": "quantitative", "scale": {"domain": [0.0164, 0.3796], "nice": false, "zero": false}, "axis": null},
           "y2": {"field": "q3"}}},
        {"data": {"name": "stats"}, "transform": [{"filter": "datum.p == 'b34'"}],
         "mark": {"type": "tick", "size": 46, "thickness": 1, "color": "#ff4a4a"},
         "encoding": {
           "x": {"field": "c", "type": "nominal", "sort": ["Melt pond", "Ice", "Ocean"], "axis": {"orient": "top", "labels": false, "title": null}},
           "y": {"field": "med", "type": "quantitative", "scale": {"domain": [0.0164, 0.3796], "nice": false, "zero": false}, "axis": {"orient": "right", "labels": false, "title": null, "values": [0.1, 0.2, 0.3]}}}},
        {"data": {"name": "stats"}, "transform": [{"filter": "datum.p == 'b34'"}, {"fold": ["lo", "hi"]}],
         "mark": {"type": "tick", "size": 23, "thickness": 1, "color": "#333"},
         "encoding": {
           "x": {"field": "c", "type": "nominal", "sort": ["Melt pond", "Ice", "Ocean"], "axis": null},
           "y": {"field": "value", "type": "quantitative", "scale": {"domain": [0.0164, 0.3796], "nice": false, "zero": false}, "axis": null}}},
        {"data": {"name": "out"}, "transform": [{"filter": "datum.p == 'b34'"}],
         "mark": {"type": "point", "shape": "M-1,0H1M0,-1V1", "size": 45, "filled": false, "stroke": "#ff0000", "strokeWidth": 1, "opacity": 1},
         "encoding": {
           "x": {"field": "c", "type": "nominal", "sort": ["Melt pond", "Ice", "Ocean"], "axis": null},
           "y": {"field": "v", "type": "quantitative", "scale": {"domain": [0.0164, 0.3796], "nice": false, "zero": false}, "axis": null}}}
      ]
    }
  ],
  "config": {
    "font": "Liberation Sans",
    "view": {"stroke": "#8c8c8c", "strokeWidth": 1},
    "title": {"fontSize": 25, "fontWeight": "normal", "color": "#000000", "font": "Liberation Sans", "baseline": "alphabetic", "anchor": "middle"},
    "axis": {"grid": false, "domain": false, "tickColor": "#8c8c8c", "tickSize": -5, "labelFontSize": 18.5, "labelColor": "#262626", "labelFont": "Liberation Sans"}
  }
}
